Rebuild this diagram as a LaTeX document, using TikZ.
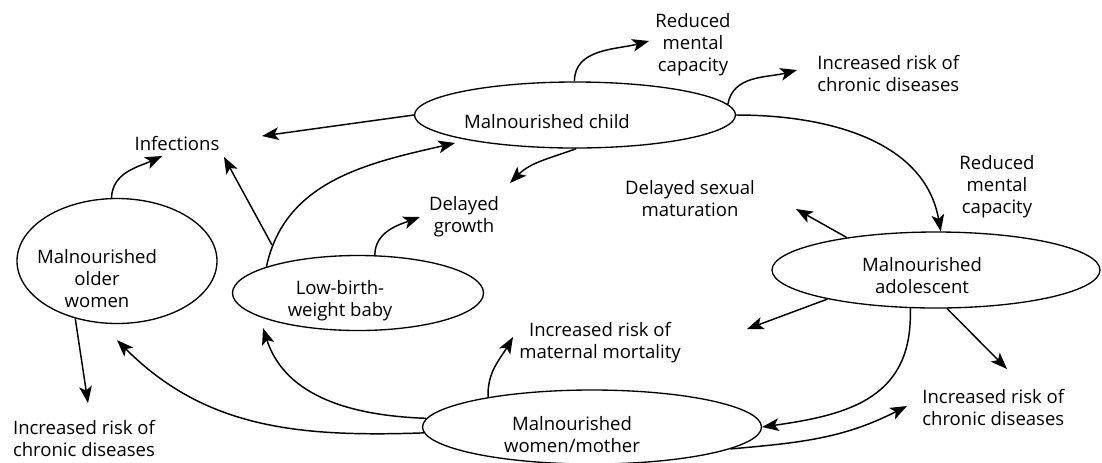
\documentclass[tikz,border=0pt]{standalone}
\usepackage{fontspec}
\setmainfont{Open Sans}
\usepackage{tikz}
\usetikzlibrary{arrows.meta,shapes.geometric,calc}

\begin{document}
\begin{tikzpicture}[x=0.75pt, y=0.75pt, line width=1pt,
  font=\fontsize{13.9}{16.5}\selectfont,
  stage/.style={draw, ellipse, inner sep=0pt},
  stagetext/.style={align=center, inner sep=0pt},
  outcome/.style={align=center, inner sep=2pt},
  arr/.style={-{Stealth[length=12.5pt, width=9.5pt, inset=3pt]}, line width=1.1pt}]

\useasboundingbox (0,0) rectangle (1102,-462);

% life-cycle stages
\node[stage, minimum width=240.75pt, minimum height=49.5pt,
  label={[stagetext, xshift=-21pt, yshift=-5pt]center:Malnourished child}] (child) at (575,-115) {};
\node[stage, minimum width=150pt, minimum height=93.75pt,
  label={[stagetext, xshift=-15pt, yshift=-13pt]center:Malnourished\\older\\women}] (women) at (117,-261) {};
\node[stage, minimum width=188.25pt, minimum height=56.25pt,
  label={[stagetext, xshift=-13.5pt, yshift=-6pt]center:Low-birth-\\weight baby}] (baby) at (358,-293) {};
\node[stage, minimum width=246pt, minimum height=57pt,
  label={[stagetext, xshift=-10.5pt, yshift=-4pt]center:Malnourished\\adolescent}] (adol) at (936,-270) {};
\node[stage, minimum width=254.25pt, minimum height=55.5pt,
  label={[stagetext, xshift=-15pt, yshift=-6pt]center:Malnourished\\women/mother}] (mother) at (592,-427) {};

% consequences
\node[outcome] (redtop) at (693,-45) {Reduced\\mental\\capacity};
\node[outcome, anchor=west] (chrontop) at (814,-73) {Increased risk of\\chronic diseases};
\node[outcome] (infect) at (177,-143) {Infections};
\node[outcome] (growth) at (464,-217) {Delayed\\growth};
\node[outcome] (sexual) at (690,-199) {Delayed sexual\\maturation};
\node[outcome] (redright) at (997,-187) {Reduced\\mental\\capacity};
\node[outcome] (maternal) at (600,-343) {Increased risk of\\maternal mortality};
\node[outcome, anchor=west] (chronbr) at (919,-407) {Increased risk of\\chronic diseases};
\node[outcome] (chronbl) at (84,-438) {Increased risk of\\chronic diseases};

% child
\draw[arr] (child.91) to[out=90, in=195] ($(redtop.center)+(-44,4)$);
\draw[arr] (child.4) to[out=80, in=195] ($(chrontop.west)+(-17,3)$);
\draw[arr] (child.east) to[out=0, in=100] (adol.83);
\draw[arr] (child.west) -- ($(infect.center)+(85,7)$);
\draw[arr] (child.-88) to[out=200, in=45] ($(growth.center)+(46,34)$);

% low-birth-weight baby
\draw[arr] (baby.164) to[out=78, in=193] ($(child.center)+(-120,-28)$);
\coordinate (fork) at (272,-245);
\draw[arr] (fork) -- ($(infect.center)+(47,-14)$);
\draw[arr] (baby.66) to[out=90, in=200] ($(growth.center)+(-44,0)$);

% older women
\draw[arr] (women.95) to[out=88, in=205] ($(infect.center)+(-15,-13)$);
\draw[arr] (women.234) -- ($(chronbl.center)+(4,35)$);

% women/mother
\draw[arr] (mother.182) to[out=182, in=-45] ($(women.south)+(0,-16)$);
\draw[arr] (mother.177) to[out=178, in=-72] ($(baby.center)+(-95,-35)$);
\draw[arr] (mother.164) to[out=92, in=240] ($(maternal.center)+(-87,6)$);
\draw[arr] (mother.351) to[out=5, in=207] ($(chronbr.west)+(-12,1)$);

% adolescent
\draw[arr] (adol.236) to[out=-88, in=8, looseness=1.2] (mother.east);
\draw[arr] (adol.195) -- ($(maternal.center)+(147,14)$);
\draw[arr] (adol.286) -- ($(chronbr.west)+(88,38)$);
\draw[arr] (adol.160) -- ($(sexual.center)+(106,-10)$);
\end{tikzpicture}
\end{document}
